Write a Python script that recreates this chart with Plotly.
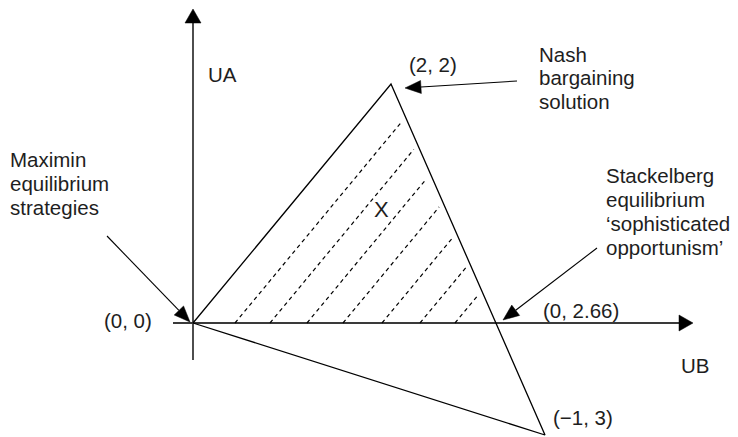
import numpy as np
import plotly.graph_objects as go

# ---- diagram data (diagram units, origin at the axes crossing) ----
origin = (0.0, 0.0)
apex = (1.98, 2.39)          # Nash bargaining solution (2, 2)
bottom = (3.52, -1.12)       # (-1, 3)
hatch_starts = [0.42, 0.77, 1.14, 1.50, 1.89, 2.27, 2.62]   # where hatch lines meet UB axis
ub_axis = [-0.20, 5.00]
ua_axis = [-0.37, 3.14]

pointer_labels = ["Maximin", "Nash", "Stackelberg"]
pointer_tails = [(-0.86, 0.87), (3.24, 2.42), (4.04, 0.75)]
pointer_tips = [(-0.03, 0.01), (2.12, 2.35), (3.10, 0.03)]

maximin_text = ["Maximin", "equilibrium", "strategies"]
nash_text = ["Nash", "bargaining", "solution"]
stack_text = ["Stackelberg", "equilibrium", "\u2018sophisticated", "opportunism\u2019"]
point_labels = ["(2, 2)", "(0, 0)", "(0, 2.66)", "(\u22121, 3)"]
axis_labels = ["UA", "UB"]

FONT = "Liberation Sans, Arial, Helvetica, sans-serif"
TXT = "#1e1e1e"
FS = 20.5

fig = go.Figure()

def seg(x, y, color="black", width=1.3, dash=None):
    fig.add_trace(go.Scatter(x=x, y=y, mode="lines",
                             line=dict(color=color, width=width, dash=dash),
                             hoverinfo="skip", showlegend=False))

def head(tip, direction, L, W, color="black"):
    d = np.array(direction, float)
    d /= np.linalg.norm(d)
    n = np.array([-d[1], d[0]])
    t = np.array(tip, float)
    b = t - d * L
    p1 = b + n * W
    p2 = b - n * W
    fig.add_trace(go.Scatter(x=[t[0], p1[0], p2[0], t[0]], y=[t[1], p1[1], p2[1], t[1]],
                             mode="lines", fill="toself", fillcolor=color,
                             line=dict(color=color, width=0.5),
                             hoverinfo="skip", showlegend=False))
    return b

# axes
AX = "#3a3a3a"
seg([ub_axis[0], ub_axis[1] - 0.10], [0, 0], color=AX, width=1.8)
head((ub_axis[1], 0), (1, 0), 0.14, 0.08, color="black")
seg([0, 0], [ua_axis[0], ua_axis[1] - 0.10], color=AX, width=1.8)
head((0, ua_axis[1]), (0, 1), 0.14, 0.08, color="black")

# triangle
seg([origin[0], apex[0], bottom[0], origin[0]], [origin[1], apex[1], bottom[1], origin[1]],
    color="black", width=1.3)

# hatch lines parallel to left edge, ending just short of right edge
dvec = np.array(apex) - np.array(origin)
A = np.array(apex); B = np.array(bottom)
evec = B - A
gap = 0.06
for xs in hatch_starts:
    p0 = np.array([xs, 0.0])
    M = np.column_stack([dvec, -evec])
    t, s = np.linalg.solve(M, A - p0)
    t_end = t - gap / np.linalg.norm(dvec)
    p1 = p0 + dvec * t_end
    seg([p0[0], p1[0]], [p0[1], p1[1]], color="black", width=1.2, dash="4px,3.5px")

# pointer arrows
for tail, tip in zip(pointer_tails, pointer_tips):
    d = np.array(tip) - np.array(tail)
    b = head(tip, d, 0.16, 0.065)
    seg([tail[0], b[0]], [tail[1], b[1]], color="black", width=1.1)

DX, DY = 0.02, -0.015

def label(x, y, text, size=FS):
    fig.add_trace(go.Scatter(x=[x + DX], y=[y + DY], mode="text", text=[text],
                             textposition="middle right", cliponaxis=False,
                             textfont=dict(family=FONT, size=size, color=TXT),
                             hoverinfo="skip", showlegend=False))

for i, t in enumerate(maximin_text):
    label(-1.85, 1.63 - 0.24 * i, t)
for i, t in enumerate(nash_text):
    label(3.44, 2.68 - 0.235 * i, t)
for i, t in enumerate(stack_text):
    label(4.11, 1.47 - 0.24 * i, t)

label(2.14, 2.58, point_labels[0])
label(-0.91, 0.02, point_labels[1])
label(3.48, 0.12, point_labels[2])
label(3.58, -0.95, point_labels[3])
label(0.13, 2.48, axis_labels[0])
label(4.86, -0.43, axis_labels[1])
label(1.79, 1.13, "X", size=22)

# the page body adds an 8px offset, so the figure is 8px smaller and ranges shifted
fig.update_layout(
    width=730, height=429,
    margin=dict(l=0, r=0, t=0, b=0),
    paper_bgcolor="white", plot_bgcolor="white",
    xaxis=dict(range=[-1.85, 5.45], visible=False, fixedrange=True),
    yaxis=dict(range=[-1.14, 3.15], visible=False, fixedrange=True),
    showlegend=False,
)

fig.write_html("out.html")
